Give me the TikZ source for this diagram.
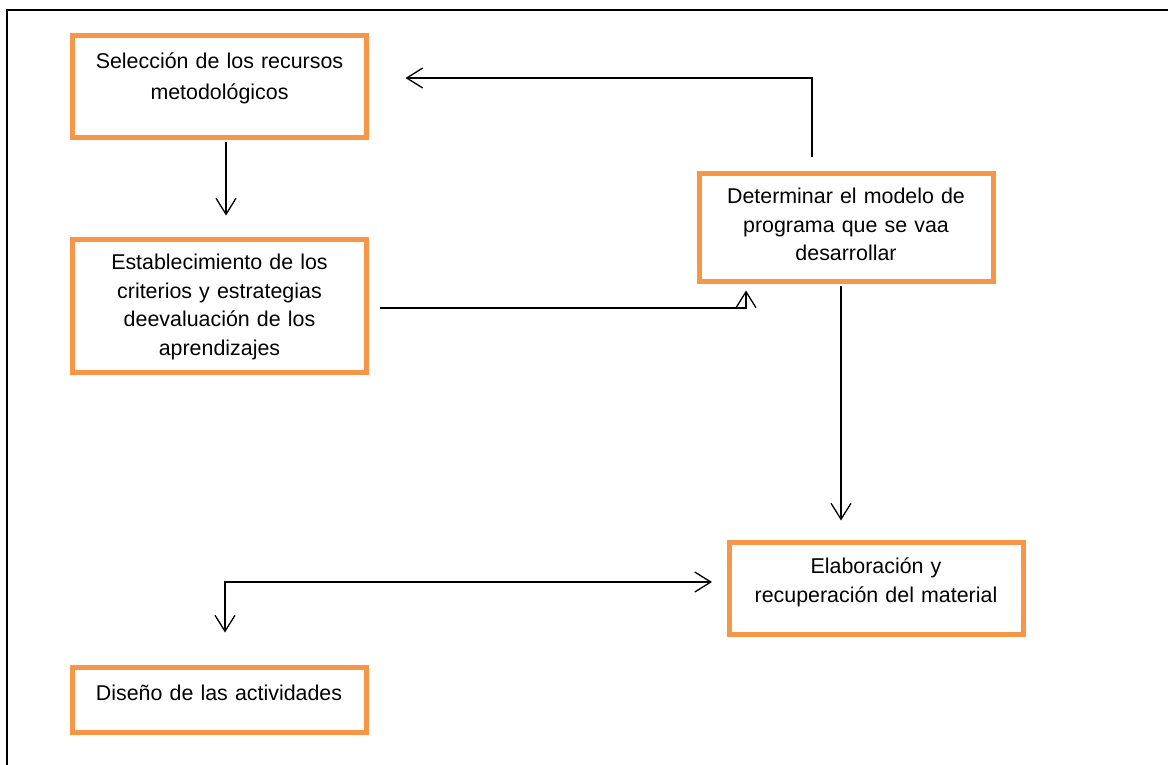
\documentclass[tikz,border=0pt]{standalone}
\usepackage{fontspec}
\setmainfont{Liberation Sans}
\usetikzlibrary{arrows.meta}
\definecolor{naranja}{HTML}{F79646}
\begin{document}
\begin{tikzpicture}[x=1pt,y=-1pt,
	>={Straight Barb[length=16pt,width=20pt]},
	caja/.style={draw=naranja,line width=5pt,inner sep=0pt,minimum width=294pt,
		text width=280pt,align=center,font=\fontsize{21.4}{28.5}\selectfont},
	flecha/.style={line width=1.3pt}]
	\useasboundingbox (0,0) rectangle (1168,765);
	% marco
	\draw[line width=2.5pt] (1168,10) -- (7,10) -- (7,765);
	% cajas
	\node[caja,font=\fontsize{21.4}{31}\selectfont,text height=33pt,text depth=69pt] (sel) at (219.5,86.5)
		{Selección de los recursos\\ metodológicos};
	\node[caja,text height=30pt,text depth=103pt] (est) at (219.5,306)
		{Establecimiento de los\\ criterios y estrategias\\ deevaluación de los\\ aprendizajes};
	\node[caja,text height=30pt,text depth=78pt] (det) at (846,227.5)
		{Determinar el modelo de\\ programa que se vaa\\ desarrollar};
	\node[caja,text height=31pt,text depth=61pt] (ela) at (876,588.5)
		{Elaboración y\\ recuperación del material};
	\node[caja,text height=33pt,text depth=32pt] (dis) at (219,700)
		{Diseño de las actividades};
	% flechas
	\draw[flecha,->] ([xshift=6.5pt,yshift=-2.5pt]sel.south) -- ([xshift=6.5pt,yshift=21.5pt]est.north);
	\draw[flecha,->] ([xshift=-34pt,yshift=13.5pt]det.north) |- ([xshift=36.5pt,yshift=8.5pt]sel.east);
	\draw[flecha,->] ([xshift=10.5pt,yshift=-2pt]est.east) -| ([xshift=-100pt,yshift=-6.5pt]det.south);
	\draw[flecha,->] ([xshift=-5pt,yshift=-2pt]det.south) -- ([xshift=-35pt,yshift=19.5pt]ela.north);
	\draw[flecha,<->] ([xshift=6pt,yshift=32.5pt]dis.north) |- ([xshift=-14.5pt,yshift=6.5pt]ela.west);
\end{tikzpicture}
\end{document}
